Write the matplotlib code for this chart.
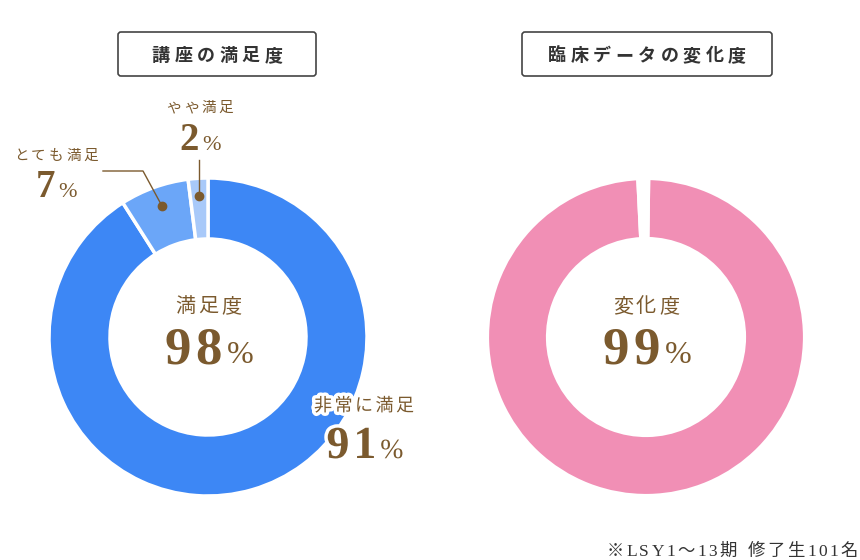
import matplotlib.pyplot as plt
import matplotlib.patheffects as pe
from matplotlib.patches import FancyBboxPatch

# データ
sat_labels = ['非常に満足', 'とても満足', 'やや満足']
sat_values = [91, 7, 2]
sat_colors = ['#3d87f5', '#6ba6f8', '#a8c9f9']
sat_total = 98

chg_values = [99, 1]
chg_colors = ['#f18fb5', 'white']
chg_total = 99

titles = ['講座の満足度', '臨床データの変化度']
center_labels = ['満足度', '変化度']
note = '※LSY1〜13期 修了生101名'

brown = '#7b5a2e'
grey = '#333333'
jp = ['Noto Sans CJK JP', 'DejaVu Sans']
serif = ['Liberation Serif', 'Noto Sans CJK JP']

fig = plt.figure(figsize=(8.6, 5.6), dpi=100)
ax = fig.add_axes([0, 0, 1, 1])
r = fig.canvas.get_renderer()


def spaced(x, y, parts, track=0, ha='center', effects=None):
    # 文字を一つずつ置いて字間をあける
    objs = []
    for s, size, fam, color, weight in parts:
        for ch in s:
            t = ax.text(0, y, ch, fontsize=size, family=fam, color=color,
                        weight=weight, va='baseline', ha='left', zorder=5)
            if effects:
                t.set_path_effects(effects)
            w = t.get_window_extent(r).width if ch != ' ' else size * 0.5
            objs.append([t, w])
    total = sum(w for _, w in objs) + track * (len(objs) - 1)
    x0 = x - total / 2 if ha == 'center' else x - total
    for t, w in objs:
        t.set_x(x0)
        x0 += w + track


# ドーナツ
c1 = (208, 337)
c2 = (646, 337)
ax.pie(sat_values, colors=sat_colors, center=c1, radius=159, startangle=-90,
       counterclock=True, wedgeprops=dict(width=61, edgecolor='white', linewidth=2.5))
ax.pie(chg_values, colors=chg_colors, center=c2, radius=159, startangle=-89.2,
       counterclock=True, wedgeprops=dict(width=61, edgecolor='white', linewidth=3))
ax.set_xlim(0, 860)
ax.set_ylim(560, 0)
ax.set_aspect('auto')
ax.axis('off')

# タイトル枠
for (x0, x1), title in zip([(118, 316), (522, 772)], titles):
    box = FancyBboxPatch((x0, 32), x1 - x0, 44, boxstyle='round,pad=0,rounding_size=3',
                         fc='white', ec='#444444', lw=1.2)
    ax.add_patch(box)
    spaced((x0 + x1) / 2, 61, [(title, 13, jp, grey, 'bold')], track=4.5)

# 中央の文字
for c, lab, tot in [(c1, center_labels[0], sat_total), (c2, center_labels[1], chg_total)]:
    spaced(c[0], 312, [(lab, 14.5, jp, brown, 'normal')], track=3)
    spaced(c[0] + 1, 363, [(str(tot), 38, serif, brown, 'bold'),
                           ('%', 23, serif, brown, 'normal')], track=5)

# ラベル
glow = [pe.withStroke(linewidth=5, foreground='white')]
spaced(364, 411, [(sat_labels[0], 13, jp, brown, 'normal')], track=2.5, effects=glow)
spaced(365, 458, [(str(sat_values[0]), 33, serif, brown, 'bold'),
                  ('%', 20, serif, brown, 'normal')], track=4, effects=glow)

spaced(56, 160, [(sat_labels[1], 10.5, jp, brown, 'normal')], track=2.8)
spaced(56, 197, [(str(sat_values[1]), 28, serif, brown, 'bold'),
                 ('%', 16, serif, brown, 'normal')], track=3)

spaced(200, 112, [(sat_labels[2], 10.5, jp, brown, 'normal')], track=2.8)
spaced(200, 150, [(str(sat_values[2]), 28, serif, brown, 'bold'),
                  ('%', 16, serif, brown, 'normal')], track=3)

# 引き出し線
ax.plot([103, 143, 162], [171, 171, 206], color=brown, lw=1, zorder=4)
ax.plot([162], [206], 'o', color=brown, ms=6, zorder=4)
ax.plot([199, 199], [160, 196], color=brown, lw=1, zorder=4)
ax.plot([199], [196], 'o', color=brown, ms=6, zorder=4)

# 注記
spaced(858, 556, [(note, 12.5, serif, grey, 'normal')], track=2.4, ha='right')

fig.savefig('out.png', dpi=100)
